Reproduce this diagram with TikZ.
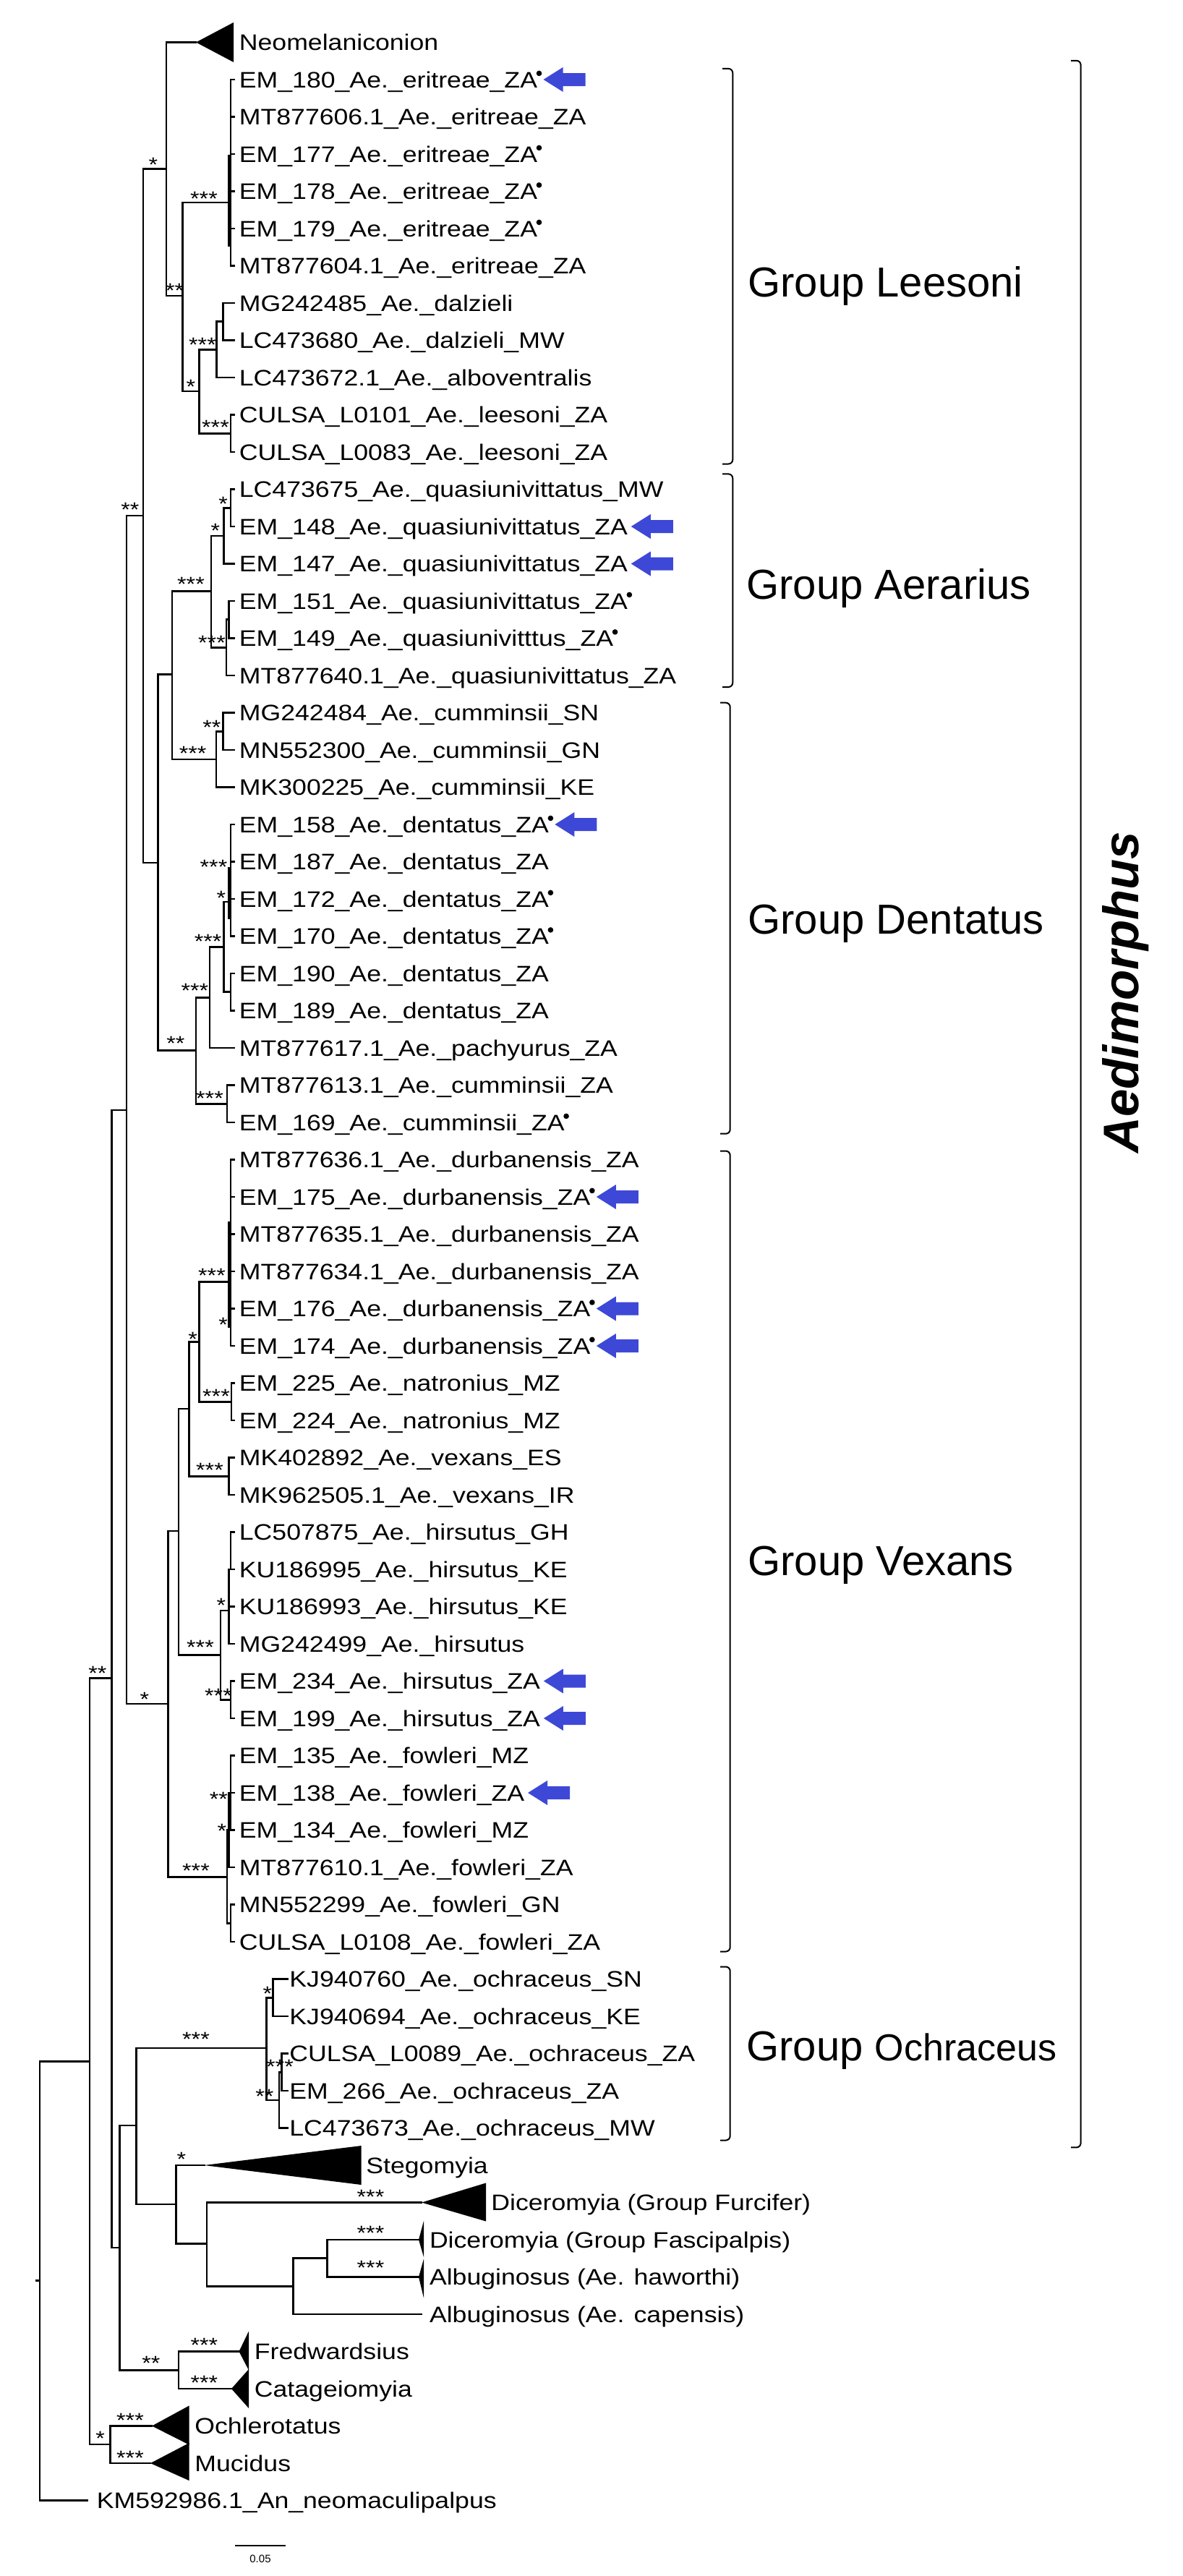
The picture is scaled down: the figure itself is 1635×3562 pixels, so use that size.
\documentclass[tikz,border=0pt]{standalone}
\usepackage{fontspec}
\setmainfont{Liberation Sans}
\newfontfamily\lfam[FakeStretch=1.15]{Liberation Sans}
\definecolor{arrowblue}{RGB}{62,72,214}
\newcommand\lfs{\lfam\fontsize{15.5pt}{18pt}\selectfont}
\newcommand\bsf{\lfam\fontsize{14pt}{16pt}\selectfont}
\newcommand\gfs{\fontsize{29pt}{34pt}\selectfont}
\newcommand\gsfs{\fontsize{26pt}{30pt}\selectfont}
\newcommand\aefs{\bfseries\itshape\fontsize{34.5pt}{40pt}\selectfont}
\newcommand\sbfs{\fontsize{7.5pt}{9pt}\selectfont}
\newcommand\brV[3]{\draw[br] (#1 |- #2) -- (#1 |- #3);}
\newcommand\brH[2]{\draw[br] (#1 |- #2) -- (#2);}
\newcommand\brL[3]{\draw[br] (#1 |- #2) -- (#3 |- #2);}
\newcommand\dotm[1]{\fill[dotst] ([xshift=1pt,yshift=4.3pt]#1.east) circle (1.9pt);}
\newcommand\barr[2]{\fill[arr] ([xshift=#2]#1.east) -- ++(13.5pt,8.5pt) -- ++(0pt,-4pt) -- ++(15.5pt,0pt) -- ++(0pt,-9pt) -- ++(-15.5pt,0pt) -- ++(0pt,-4pt) -- cycle;}
\begin{document}
\begin{tikzpicture}[x=0.5pt,y=-0.5pt,
 br/.style={line width=1.3pt, line cap=rect},
 leaf/.style={font=\lfs, anchor=west, inner sep=0pt, text height=11.1pt, text depth=0pt},
 bs/.style={font=\bsf, anchor=base, inner sep=0pt, yshift=-8.1pt},
 grp/.style={font=\gfs, anchor=west, inner sep=0pt, text height=20.8pt, text depth=0pt},
 tri/.style={fill=black},
 bk/.style={line width=1pt, rounded corners=3pt},
 arr/.style={fill=arrowblue},
 dotst/.style={fill=black}]
\useasboundingbox[fill=white] (0,0) rectangle (1635,3562);

% tip x references
\coordinate (tipx) at (324,0);
\coordinate (tipo) at (397.5,0);

% ---------- leaf labels ----------
\node[leaf] (l0) at (330.5,58.5) {Neomelaniconion};
\node[leaf] (l1) at (330.5,110) {EM\_180\_Ae.\_eritreae\_ZA};
\node[leaf] (l2) at (330.5,161.5) {MT877606.1\_Ae.\_eritreae\_ZA};
\node[leaf] (l3) at (330.5,213) {EM\_177\_Ae.\_eritreae\_ZA};
\node[leaf] (l4) at (330.5,264.5) {EM\_178\_Ae.\_eritreae\_ZA};
\node[leaf] (l5) at (330.5,316) {EM\_179\_Ae.\_eritreae\_ZA};
\node[leaf] (l6) at (330.5,367.5) {MT877604.1\_Ae.\_eritreae\_ZA};
\node[leaf] (l7) at (330.5,419) {MG242485\_Ae.\_dalzieli};
\node[leaf] (l8) at (330.5,470.5) {LC473680\_Ae.\_dalzieli\_MW};
\node[leaf] (l9) at (330.5,522) {LC473672.1\_Ae.\_alboventralis};
\node[leaf] (l10) at (330.5,573.5) {CULSA\_L0101\_Ae.\_leesoni\_ZA};
\node[leaf] (l11) at (330.5,625) {CULSA\_L0083\_Ae.\_leesoni\_ZA};
\node[leaf] (l12) at (330.5,676.5) {LC473675\_Ae.\_quasiunivittatus\_MW};
\node[leaf] (l13) at (330.5,728) {EM\_148\_Ae.\_quasiunivittatus\_ZA};
\node[leaf] (l14) at (330.5,779.5) {EM\_147\_Ae.\_quasiunivittatus\_ZA};
\node[leaf] (l15) at (330.5,831) {EM\_151\_Ae.\_quasiunivittatus\_ZA};
\node[leaf] (l16) at (330.5,882.5) {EM\_149\_Ae.\_quasiunivitttus\_ZA};
\node[leaf] (l17) at (330.5,934) {MT877640.1\_Ae.\_quasiunivittatus\_ZA};
\node[leaf] (l18) at (330.5,985.5) {MG242484\_Ae.\_cumminsii\_SN};
\node[leaf] (l19) at (330.5,1037) {MN552300\_Ae.\_cumminsii\_GN};
\node[leaf] (l20) at (330.5,1088.5) {MK300225\_Ae.\_cumminsii\_KE};
\node[leaf] (l21) at (330.5,1140) {EM\_158\_Ae.\_dentatus\_ZA};
\node[leaf] (l22) at (330.5,1191.5) {EM\_187\_Ae.\_dentatus\_ZA};
\node[leaf] (l23) at (330.5,1243) {EM\_172\_Ae.\_dentatus\_ZA};
\node[leaf] (l24) at (330.5,1294.5) {EM\_170\_Ae.\_dentatus\_ZA};
\node[leaf] (l25) at (330.5,1346) {EM\_190\_Ae.\_dentatus\_ZA};
\node[leaf] (l26) at (330.5,1397.5) {EM\_189\_Ae.\_dentatus\_ZA};
\node[leaf] (l27) at (330.5,1449) {MT877617.1\_Ae.\_pachyurus\_ZA};
\node[leaf] (l28) at (330.5,1500.5) {MT877613.1\_Ae.\_cumminsii\_ZA};
\node[leaf] (l29) at (330.5,1552) {EM\_169\_Ae.\_cumminsii\_ZA};
\node[leaf] (l30) at (330.5,1603.5) {MT877636.1\_Ae.\_durbanensis\_ZA};
\node[leaf] (l31) at (330.5,1655) {EM\_175\_Ae.\_durbanensis\_ZA};
\node[leaf] (l32) at (330.5,1706.5) {MT877635.1\_Ae.\_durbanensis\_ZA};
\node[leaf] (l33) at (330.5,1758) {MT877634.1\_Ae.\_durbanensis\_ZA};
\node[leaf] (l34) at (330.5,1809.5) {EM\_176\_Ae.\_durbanensis\_ZA};
\node[leaf] (l35) at (330.5,1861) {EM\_174\_Ae.\_durbanensis\_ZA};
\node[leaf] (l36) at (330.5,1912.5) {EM\_225\_Ae.\_natronius\_MZ};
\node[leaf] (l37) at (330.5,1964) {EM\_224\_Ae.\_natronius\_MZ};
\node[leaf] (l38) at (330.5,2015.5) {MK402892\_Ae.\_vexans\_ES};
\node[leaf] (l39) at (330.5,2067) {MK962505.1\_Ae.\_vexans\_IR};
\node[leaf] (l40) at (330.5,2118.5) {LC507875\_Ae.\_hirsutus\_GH};
\node[leaf] (l41) at (330.5,2170) {KU186995\_Ae.\_hirsutus\_KE};
\node[leaf] (l42) at (330.5,2221.5) {KU186993\_Ae.\_hirsutus\_KE};
\node[leaf] (l43) at (330.5,2273) {MG242499\_Ae.\_hirsutus};
\node[leaf] (l44) at (330.5,2324.5) {EM\_234\_Ae.\_hirsutus\_ZA};
\node[leaf] (l45) at (330.5,2376) {EM\_199\_Ae.\_hirsutus\_ZA};
\node[leaf] (l46) at (330.5,2427.5) {EM\_135\_Ae.\_fowleri\_MZ};
\node[leaf] (l47) at (330.5,2479) {EM\_138\_Ae.\_fowleri\_ZA};
\node[leaf] (l48) at (330.5,2530.5) {EM\_134\_Ae.\_fowleri\_MZ};
\node[leaf] (l49) at (330.5,2582) {MT877610.1\_Ae.\_fowleri\_ZA};
\node[leaf] (l50) at (330.5,2633.5) {MN552299\_Ae.\_fowleri\_GN};
\node[leaf] (l51) at (330.5,2685) {CULSA\_L0108\_Ae.\_fowleri\_ZA};
\node[leaf] (l52) at (400,2736.5) {KJ940760\_Ae.\_ochraceus\_SN};
\node[leaf] (l53) at (400,2788) {KJ940694\_Ae.\_ochraceus\_KE};
\node[leaf] (l54) at (400,2839.5) {CULSA\_L0089\_Ae.\_ochraceus\_ZA};
\node[leaf] (l55) at (400,2891) {EM\_266\_Ae.\_ochraceus\_ZA};
\node[leaf] (l56) at (400,2942.5) {LC473673\_Ae.\_ochraceus\_MW};
\node[leaf] (l57) at (506,2994) {Stegomyia};
\node[leaf] (l58) at (679,3045.5) {Diceromyia (Group Furcifer)};
\node[leaf] (l59) at (593.6,3097) {Diceromyia (Group Fascipalpis)};
\node[leaf] (l60) at (593.6,3148.5) {Albuginosus (Ae. haworthi)};
\node[leaf] (l61) at (593.6,3200) {Albuginosus (Ae. capensis)};
\node[leaf] (l62) at (351.5,3251.5) {Fredwardsius};
\node[leaf] (l63) at (351.5,3303) {Catageiomyia};
\node[leaf] (l64) at (269,3354.5) {Ochlerotatus};
\node[leaf] (l65) at (269,3406) {Mucidus};
\node[leaf] (l66) at (133.4,3457.5) {KM592986.1\_An\_neomaculipalpus};

% ---------- internal nodes ----------
\coordinate (n0) at (55,3153.5);
\coordinate (nGG) at (124,2850.4);
\coordinate (nX) at (154.3,2320.75);
\coordinate (nW) at (175,1535);
\coordinate (nB) at (198,713);
\coordinate (nA) at (230,233.75);
\coordinate (nC) at (252.6,409);
\coordinate (nD) at (316.4,280);
\coordinate (nD2) at (319,238.75);
\coordinate (nE) at (275.6,540.8);
\coordinate (nF) at (299.7,483.4);
\coordinate (nG) at (308.6,444.75);
\coordinate (nH) at (319,599.25);
\coordinate (nI) at (218.6,1193);
\coordinate (nJ) at (238,932.75);
\coordinate (nK) at (291.8,817.5);
\coordinate (nL) at (309.6,740.9);
\coordinate (nM) at (319,702.25);
\coordinate (nN) at (312.8,895.4);
\coordinate (nO) at (316.4,856.75);
\coordinate (nP) at (299,1049.9);
\coordinate (nQ) at (308.6,1011.25);
\coordinate (nR) at (271,1452.5);
\coordinate (nS) at (290,1379.5);
\coordinate (nT) at (309.6,1309.4);
\coordinate (nU) at (316.4,1247);
\coordinate (nU1) at (319,1217);
\coordinate (nU2) at (319,1371.75);
\coordinate (nV) at (313.8,1526.25);
\coordinate (nHH) at (232.7,2356);
\coordinate (nII) at (246.9,2117);
\coordinate (nJJ) at (261.5,1948);
\coordinate (nKK) at (275.6,1855.4);
\coordinate (nLL) at (316.4,1772.5);
\coordinate (nLL2) at (319,1732);
\coordinate (nMM) at (320,1938.25);
\coordinate (nNN) at (316.4,2041.25);
\coordinate (nOO) at (305,2288.6);
\coordinate (nPP) at (316.4,2227);
\coordinate (nPP2) at (319,2144.25);
\coordinate (nQQ) at (319,2350.25);
\coordinate (nRR) at (313.8,2595.7);
\coordinate (nR1) at (316.4,2530.5);
\coordinate (nR2) at (319,2659.25);
\coordinate (nR3) at (319,2479);
\coordinate (nY) at (165.3,3108);
\coordinate (nZ) at (188.3,2938.8);
\coordinate (nOc) at (368.7,2832);
\coordinate (nOc1) at (377.6,2762.25);
\coordinate (nOc2) at (386,2903.9);
\coordinate (nOc3) at (389.6,2865.25);
\coordinate (nAA) at (243.2,3048);
\coordinate (nBB) at (286,3102.5);
\coordinate (nCC) at (405.3,3161.4);
\coordinate (nDD) at (452.4,3122.75);
\coordinate (nEE) at (246.9,3277.25);
\coordinate (nFF) at (152.7,3380);

% collapsed clade tips and leaf ends
\coordinate (tNeo) at (271,58.5);
\coordinate (tSteg) at (282.4,2994);
\coordinate (tDicF) at (583,3045.5);
\coordinate (tFasc) at (579,3097);
\coordinate (tHaw) at (579,3148.5);
\coordinate (tCap) at (583,3200);
\coordinate (tFred) at (330.5,3251.5);
\coordinate (tCata) at (320,3303);
\coordinate (tOchl) at (210,3354.5);
\coordinate (tMuc) at (208,3406);
\coordinate (tKM) at (120.3,3457.5);

% ---------- branches ----------
\brV{n0}{nGG}{l66}
\brH{n0}{nGG}
\brH{n0}{tKM}
\draw[br] ([xshift=-2.5pt]n0) -- (n0);
\brV{nGG}{nX}{nFF} \brH{nGG}{nX} \brH{nGG}{nFF}
\brV{nX}{nW}{nY} \brH{nX}{nW} \brH{nX}{nY}
\brV{nW}{nB}{nHH} \brH{nW}{nB} \brH{nW}{nHH}
\brV{nB}{nA}{nI} \brH{nB}{nA} \brH{nB}{nI}
\brV{nA}{tNeo}{nC} \brH{nA}{tNeo} \brH{nA}{nC}
\fill[tri] (tNeo) -- ++(52,-27.5) -- ++(0,55) -- cycle;
\brV{nC}{nD}{nE} \brH{nC}{nD} \brH{nC}{nE}
\draw[br] (316.4,215.5) -- (316.4,340);
\brV{nD2}{l1}{l6}
\brL{nD2}{l1}{tipx} \brL{nD2}{l2}{tipx} \brL{nD2}{l3}{tipx}
\brL{nD2}{l4}{tipx} \brL{nD2}{l5}{tipx} \brL{nD2}{l6}{tipx}
\brV{nE}{nF}{nH} \brH{nE}{nF} \brH{nE}{nH}
\brV{nF}{nG}{l9} \brH{nF}{nG} \brL{nF}{l9}{tipx}
\brV{nG}{l7}{l8} \brL{nG}{l7}{tipx} \brL{nG}{l8}{tipx}
\brV{nH}{l10}{l11} \brL{nH}{l10}{tipx} \brL{nH}{l11}{tipx}
\brV{nI}{nJ}{nR} \brH{nI}{nJ} \brH{nI}{nR}
\brV{nJ}{nK}{nP} \brH{nJ}{nK} \brH{nJ}{nP}
\brV{nK}{nL}{nN} \brH{nK}{nL} \brH{nK}{nN}
\brV{nL}{nM}{l14} \brH{nL}{nM} \brL{nL}{l14}{tipx}
\brV{nM}{l12}{l13} \brL{nM}{l12}{tipx} \brL{nM}{l13}{tipx}
\brV{nN}{nO}{l17} \brH{nN}{nO} \brL{nN}{l17}{tipx}
\brV{nO}{l15}{l16} \brL{nO}{l15}{tipx} \brL{nO}{l16}{tipx}
\brV{nP}{nQ}{l20} \brH{nP}{nQ} \brL{nP}{l20}{tipx}
\brV{nQ}{l18}{l19} \brL{nQ}{l18}{tipx} \brL{nQ}{l19}{tipx}
\brV{nR}{nS}{nV} \brH{nR}{nS} \brH{nR}{nV}
\brV{nS}{nT}{l27} \brH{nS}{nT} \brL{nS}{l27}{tipx}
\brV{nT}{nU}{nU2} \brH{nT}{nU} \brH{nT}{nU2}
\draw[br] (316.4,1200) -- (316.4,1270);
\brV{nU1}{l21}{l24}
\brL{nU1}{l21}{tipx} \brL{nU1}{l22}{tipx} \brL{nU1}{l23}{tipx} \brL{nU1}{l24}{tipx}
\brV{nU2}{l25}{l26} \brL{nU2}{l25}{tipx} \brL{nU2}{l26}{tipx}
\brV{nV}{l28}{l29} \brL{nV}{l28}{tipx} \brL{nV}{l29}{tipx}
\brV{nHH}{nII}{nRR} \brH{nHH}{nII} \brH{nHH}{nRR}
\brV{nII}{nJJ}{nOO} \brH{nII}{nJJ} \brH{nII}{nOO}
\brV{nJJ}{nKK}{nNN} \brH{nJJ}{nKK} \brH{nJJ}{nNN}
\brV{nKK}{nLL}{nMM} \brH{nKK}{nLL} \brH{nKK}{nMM}
\draw[br] (316.4,1690) -- (316.4,1835);
\brV{nLL2}{l30}{l35}
\brL{nLL2}{l30}{tipx} \brL{nLL2}{l31}{tipx} \brL{nLL2}{l32}{tipx}
\brL{nLL2}{l33}{tipx} \brL{nLL2}{l34}{tipx} \brL{nLL2}{l35}{tipx}
\brV{nMM}{l36}{l37} \brL{nMM}{l36}{tipx} \brL{nMM}{l37}{tipx}
\brV{nNN}{l38}{l39} \brL{nNN}{l38}{tipx} \brL{nNN}{l39}{tipx}
\brV{nOO}{nPP}{nQQ} \brH{nOO}{nPP} \brH{nOO}{nQQ}
\brV{nPP}{l41}{l43} \brL{nPP}{l42}{tipx} \brL{nPP}{l43}{tipx}
\brV{nPP2}{l40}{l41} \brL{nPP2}{l40}{tipx} \brL{nPP2}{l41}{tipx}
\brV{nQQ}{l44}{l45} \brL{nQQ}{l44}{tipx} \brL{nQQ}{l45}{tipx}
\brV{nRR}{nR1}{nR2} \brH{nRR}{nR1} \brH{nRR}{nR2}
\brV{nR1}{nR3}{l49} \brH{nR1}{nR3} \brL{nR1}{l49}{tipx}
\brV{nR3}{l46}{l48} \brL{nR3}{l46}{tipx} \brL{nR3}{l47}{tipx} \brL{nR3}{l48}{tipx}
\brV{nR2}{l50}{l51} \brL{nR2}{l50}{tipx} \brL{nR2}{l51}{tipx}
\brV{nY}{nZ}{nEE} \brH{nY}{nZ} \brH{nY}{nEE}
\brV{nZ}{nOc}{nAA} \brH{nZ}{nOc} \brH{nZ}{nAA}
\brV{nOc}{nOc1}{nOc2} \brH{nOc}{nOc1} \brH{nOc}{nOc2}
\brV{nOc1}{l52}{l53} \brL{nOc1}{l52}{tipo} \brL{nOc1}{l53}{tipo}
\brV{nOc2}{nOc3}{l56} \brH{nOc2}{nOc3} \brL{nOc2}{l56}{tipo}
\brV{nOc3}{l54}{l55} \brL{nOc3}{l54}{tipo} \brL{nOc3}{l55}{tipo}
\brV{nAA}{tSteg}{nBB} \brH{nAA}{tSteg} \brH{nAA}{nBB}
\fill[tri] (tSteg) -- ++(217.1,-27) -- ++(0,54) -- cycle;
\brV{nBB}{tDicF}{nCC} \brH{nBB}{tDicF} \brH{nBB}{nCC}
\fill[tri] (tDicF) -- ++(89,-27) -- ++(0,53) -- cycle;
\brV{nCC}{nDD}{tCap} \brH{nCC}{nDD} \brH{nCC}{tCap}
\brV{nDD}{tFasc}{tHaw} \brH{nDD}{tFasc} \brH{nDD}{tHaw}
\fill[tri] (tFasc) -- ++(7,-26) -- ++(0,50) -- cycle;
\fill[tri] (tHaw) -- ++(7,-25) -- ++(0,54) -- cycle;
\brV{nEE}{tFred}{tCata} \brH{nEE}{tFred} \brH{nEE}{tCata}
\fill[tri] (tFred) -- ++(13.5,-28) -- ++(0,54) -- cycle;
\fill[tri] (tCata) -- ++(24,-27) -- ++(0,54) -- cycle;
\brV{nFF}{tOchl}{tMuc} \brH{nFF}{tOchl} \brH{nFF}{tMuc}
\fill[tri] (tOchl) -- ++(51.5,-28) -- ++(0,54) -- cycle;
\fill[tri] (tMuc) -- ++(53.5,-28) -- ++(0,52) -- cycle;

% ---------- support labels ----------
\node[bs] (b1) at (212,221) {*};
\node[bs] (b2) at (282,268) {***};
\node[bs] (b3) at (241.6,395.4) {**};
\node[bs] (b4) at (280,470) {***};
\node[bs] (b5) at (264,528) {*};
\node[bs] (b6) at (298,584) {***};
\node[bs] (b7) at (180,698) {**};
\node[bs] (b8) at (308.6,690) {*};
\node[bs] (b9) at (298,727) {*};
\node[bs] (b10) at (264,801.7) {***};
\node[bs] (b11) at (293,882.7) {***};
\node[bs] (b12) at (293,999) {**};
\node[bs] (b13) at (266.7,1035) {***};
\node[bs] (b14) at (295.5,1192) {***};
\node[bs] (b15) at (306,1235.6) {*};
\node[bs] (b16) at (287.6,1295) {***};
\node[bs] (b17) at (269.3,1363) {***};
\node[bs] (b18) at (243,1436) {**};
\node[bs] (b19) at (290,1512) {***};
\node[bs] (b20) at (293,1757.5) {***};
\node[bs] (b21) at (308.6,1825.7) {*};
\node[bs] (b22) at (266.7,1845.5) {*};
\node[bs] (b23) at (299,1924.5) {***};
\node[bs] (b24) at (290,2026) {***};
\node[bs] (b25) at (306,2213) {*};
\node[bs] (b26) at (277,2271) {***};
\node[bs] (b27) at (302,2337.8) {***};
\node[bs] (b28) at (135,2307) {**};
\node[bs] (b29) at (200,2343.7) {*};
\node[bs] (b30) at (302.3,2481) {**};
\node[bs] (b31) at (307,2525.7) {*};
\node[bs] (b32) at (271,2580) {***};
\node[bs] (b33) at (369.8,2750) {*};
\node[bs] (b34) at (271,2813) {***};
\node[bs] (b35) at (387,2851) {***};
\node[bs] (b36) at (366,2892) {**};
\node[bs] (b37) at (251,2979) {*};
\node[bs] (b38) at (512.5,3031.5) {***};
\node[bs] (b39) at (512.5,3081.7) {***};
\node[bs] (b40) at (512.5,3129) {***};
\node[bs] (b41) at (282.4,3236) {***};
\node[bs] (b42) at (282.4,3288.5) {***};
\node[bs] (b43) at (209,3261) {**};
\node[bs] (b44) at (180,3340) {***};
\node[bs] (b45) at (180,3392.5) {***};
\node[bs] (b46) at (138.6,3365.6) {*};

% ---------- sample dots ----------
\dotm{l1} \dotm{l3} \dotm{l4} \dotm{l5}
\dotm{l15} \dotm{l16}
\dotm{l21} \dotm{l23} \dotm{l24} \dotm{l29}
\dotm{l31} \dotm{l34} \dotm{l35}

% ---------- blue arrows ----------
\barr{l1}{4pt}
\barr{l13}{2.2pt}
\barr{l14}{2.2pt}
\barr{l21}{4pt}
\barr{l31}{4pt}
\barr{l34}{4pt}
\barr{l35}{4pt}
\barr{l44}{2.2pt}
\barr{l45}{2.2pt}
\barr{l47}{2.2pt}

% ---------- group brackets ----------
\draw[bk] (999,94.9) -- (1013.3,94.9) -- (1013.3,641.5) -- (999,641.5);
\draw[bk] (999,655.4) -- (1013.3,655.4) -- (1013.3,950) -- (999,950);
\draw[bk] (996,971.7) -- (1009.7,971.7) -- (1009.7,1567.7) -- (996,1567.7);
\draw[bk] (996,1591.5) -- (1009.7,1591.5) -- (1009.7,2698.5) -- (996,2698.5);
\draw[bk] (996,2719.5) -- (1009.7,2719.5) -- (1009.7,2959.5) -- (996,2959.5);
\draw[bk] (1481,83.8) -- (1494.6,83.8) -- (1494.6,2969.4) -- (1481,2969.4);

\node[grp] (g1) at (1034,389.5) {Group Leesoni};
\node[grp] (g2) at (1032,807.6) {Group Aerarius};
\node[grp] (g3) at (1034,1270.4) {Group Dentatus};
\node[grp] (g4) at (1034,2157.8) {Group Vexans};
\node[grp] (g5) at (1032,2829) {Group {\gsfs Ochraceus}};
\node[font=\aefs, rotate=90, inner sep=0pt] (aed) at (1557,1372) {Aedimorphus};

% ---------- scale bar ----------
\coordinate (sb1) at (325,3520);
\coordinate (sb2) at (395,3520);
\draw[br, line cap=butt] (sb1) -- (sb2);
\node[font=\sbfs, inner sep=0pt] (sbt) at (360,3538) {0.05};
\end{tikzpicture}
\end{document}
